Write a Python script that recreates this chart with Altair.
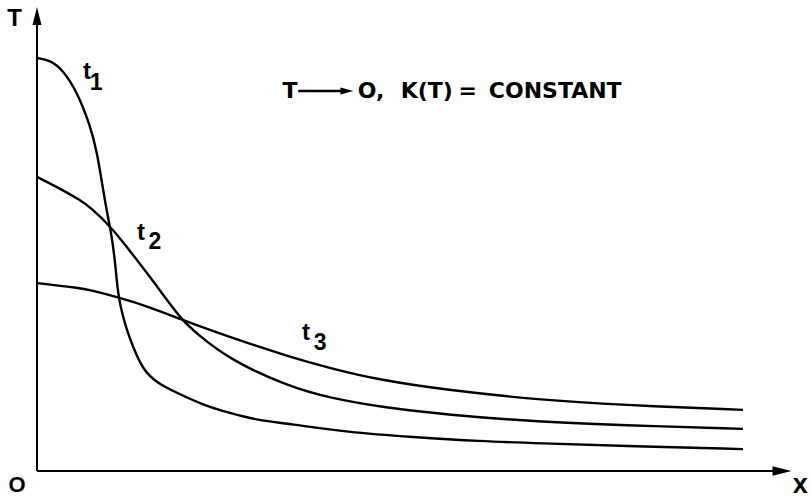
import altair as alt
import pandas as pd

# Temperature profiles T(x) at three successive times
t1_x = [0.000, 0.184, 0.368, 0.567, 0.751, 0.850, 0.921, 0.992, 1.048, 1.105, 1.147, 1.218,
        1.275, 1.360, 1.501, 1.700, 1.983, 2.351, 2.734, 3.116, 3.584, 4.391, 5.326, 6.275,
        7.125, 8.258, 10.000]
t1_T = [1.000, 0.995, 0.971, 0.918, 0.838, 0.772, 0.697, 0.625, 0.580, 0.511, 0.425, 0.373,
        0.341, 0.300, 0.245, 0.213, 0.189, 0.160, 0.140, 0.123, 0.114, 0.094, 0.082, 0.072,
        0.067, 0.061, 0.053]

t2_x = [0.000, 0.368, 0.609, 0.751, 1.048, 1.275, 1.601, 1.841, 2.054, 2.266, 2.734, 3.584,
        4.150, 4.858, 5.807, 7.125, 8.258, 10.000]
t2_T = [0.712, 0.680, 0.656, 0.639, 0.591, 0.542, 0.470, 0.414, 0.366, 0.332, 0.269, 0.203,
        0.177, 0.155, 0.136, 0.119, 0.111, 0.102]

t3_x = [0.000, 0.609, 0.751, 1.147, 1.601, 2.054, 2.734, 3.584, 4.150, 4.858, 5.807, 7.125,
        8.258, 10.000]
t3_T = [0.455, 0.443, 0.438, 0.421, 0.397, 0.366, 0.324, 0.276, 0.249, 0.220, 0.196, 0.172,
        0.160, 0.148]

# Curve labels: "t" and its subscript
label_t_x = [0.708, 1.473, 3.810]
label_t_T = [0.966, 0.576, 0.334]
label_sub = ["1", "2", "3"]
label_sub_x = [0.836, 1.671, 4.010]
label_sub_T = [0.939, 0.554, 0.310]

# Annotation pieces
note_text = ["O,", "K(T)", "=", "CONSTANT"]
note_x = [4.731, 5.520, 6.100, 7.340]

FONT = "Liberation Sans"
NOTE_FONT = "DejaVu Sans"
X_DOMAIN = [-0.524, 10.949]
Y_DOMAIN = [-0.0654, 1.1404]

xs = alt.Scale(domain=X_DOMAIN, nice=False, zero=False)
ys = alt.Scale(domain=Y_DOMAIN, nice=False, zero=False)


def X(field="x"):
    return alt.X(f"{field}:Q", scale=xs, axis=None)


def Y(field="T"):
    return alt.Y(f"{field}:Q", scale=ys, axis=None)


rows = []
for name, xv, tv in (("t1", t1_x, t1_T), ("t2", t2_x, t2_T), ("t3", t3_x, t3_T)):
    for a, b in zip(xv, tv):
        rows.append({"series": name, "x": a, "T": b})
curves_df = pd.DataFrame(rows)

curves = alt.Chart(curves_df).mark_line(
    color="black", strokeWidth=2.4, interpolate="basis"
).encode(x=X(), y=Y(), detail="series:N")

# Coordinate axes with arrowheads
axes_df = pd.DataFrame({
    "x": [0.0, 0.0], "x2": [0.0, 10.45],
    "T": [0.0, 0.0], "T2": [1.11, 0.0],
})
axes = alt.Chart(axes_df).mark_rule(color="black", strokeWidth=2).encode(
    x=X(), x2="x2:Q", y=Y(), y2="T2:Q",
)

up_head = alt.Chart(pd.DataFrame({"x": [0.0], "T": [1.1017]})).mark_point(
    shape="M0,-1L0.5,1L-0.5,1Z", size=324, filled=True, color="black", opacity=1
).encode(x=X(), y=Y())

right_head = alt.Chart(pd.DataFrame({"x": [10.552], "T": [0.0]})).mark_point(
    shape="M1,0L-1,0.5L-1,-0.5Z", size=361, filled=True, color="black", opacity=1
).encode(x=X(), y=Y())

# Axis letters
axis_lbl_df = pd.DataFrame({
    "x": [-0.319, -0.283, 10.81],
    "T": [1.094, -0.0339, -0.0339],
    "label": ["T", "O", "x"],
    "size": [24, 22, 27],
})
axis_lbls = alt.Chart(axis_lbl_df).mark_text(
    font=FONT, fontWeight="bold", color="black", baseline="middle", align="center"
).encode(
    x=X(), y=Y(), text="label:N",
    size=alt.Size("size:Q", scale=None, legend=None),
)

t_df = pd.DataFrame({"x": label_t_x, "T": label_t_T, "label": ["t"] * 3})
t_lbls = alt.Chart(t_df).mark_text(
    font=FONT, fontWeight="bold", fontSize=24, color="black", baseline="middle"
).encode(x=X(), y=Y(), text="label:N")

sub_df = pd.DataFrame({"x": label_sub_x, "T": label_sub_T, "label": label_sub})
sub_lbls = alt.Chart(sub_df).mark_text(
    font=FONT, fontWeight="bold", fontSize=23, color="black", baseline="middle"
).encode(x=X(), y=Y(), text="label:N")

# Annotation: T -> O, K(T) = CONSTANT
NOTE_T = 0.920
note_T = alt.Chart(pd.DataFrame({"x": [3.584], "T": [NOTE_T], "label": ["T"]})).mark_text(
    font=NOTE_FONT, fontWeight="bold", fontSize=22, color="black", baseline="middle"
).encode(x=X(), y=Y(), text="label:N")

note_shaft = alt.Chart(pd.DataFrame({"x": [3.70], "x2": [4.33], "T": [NOTE_T]})).mark_rule(
    color="black", strokeWidth=2.4
).encode(x=X(), x2="x2:Q", y=Y())

note_head = alt.Chart(pd.DataFrame({"x": [4.39], "T": [NOTE_T]})).mark_point(
    shape="M1,0L-1,0.55L-1,-0.55Z", size=169, filled=True, color="black", opacity=1
).encode(x=X(), y=Y())

note_df = pd.DataFrame({"x": note_x, "T": [NOTE_T] * len(note_text), "label": note_text})
note_words = alt.Chart(note_df).mark_text(
    font=NOTE_FONT, fontWeight="bold", fontSize=22, color="black", baseline="middle", align="center"
).encode(x=X(), y=Y(), text="label:N")

chart = alt.layer(
    axes, up_head, right_head, curves, axis_lbls, t_lbls, sub_lbls,
    note_T, note_shaft, note_head, note_words
).properties(
    width=810, height=498, padding=0, autosize=alt.AutoSizeParams(type="none"),
    background="white",
).configure_view(stroke=None)

chart.save("out.html", embed_options={"renderer": "svg", "actions": False})
